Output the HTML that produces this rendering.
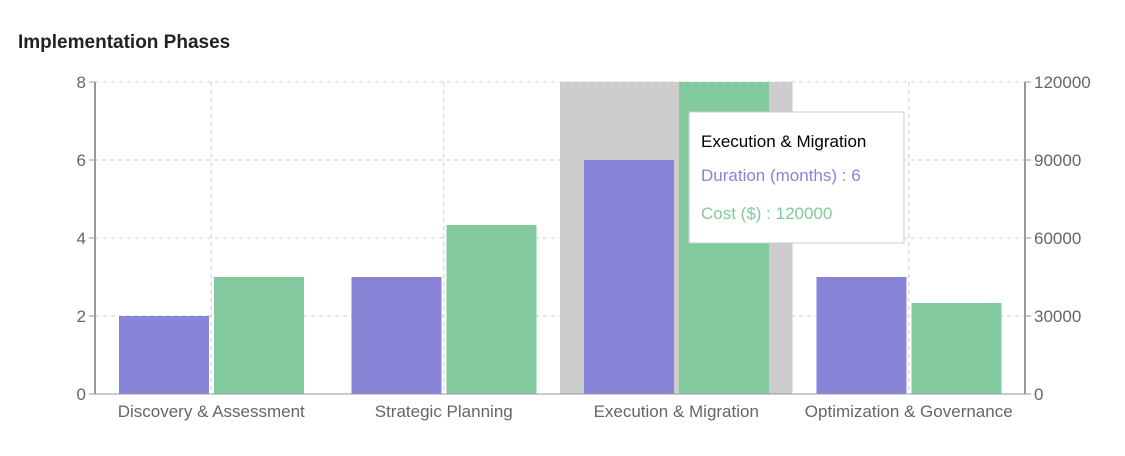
<!DOCTYPE html>
<html><head><meta charset="utf-8"><style>
body{margin:0;background:#fff;font-family:"Liberation Sans",sans-serif;}
</style></head><body>
<svg width="1125" height="451" xmlns="http://www.w3.org/2000/svg" font-family="Liberation Sans, sans-serif">
<text x="18" y="48" font-size="19" font-weight="bold" fill="#222">Implementation Phases</text>
<g id="grid"></g>
<g id="bars"></g>
<g id="axes"></g>
<g>
<rect x="689" y="112" width="215" height="131" fill="#fff" stroke="#ccc"/>
<text x="701" y="147" font-size="17" fill="#000">Execution &amp; Migration</text>
<text id="tt1" x="701" y="181" font-size="17" fill="#8884d8">Duration (months) : 6</text>
<text id="tt2" x="701" y="219" font-size="17" fill="#82ca9d">Cost ($) : 120000</text>
</g>
</svg>
<script>
const categories=["Discovery & Assessment","Strategic Planning","Execution & Migration","Optimization & Governance"];
const duration=[2,3,6,3];
const cost=[45000,65000,120000,35000];
const leftTicks=[0,2,4,6,8];
const rightTicks=[0,30000,60000,90000,120000];
const highlight=2;
const NS="http://www.w3.org/2000/svg";
const X0=95,X1=1025,Y0=394,Y1=82;
const band=(X1-X0)/categories.length;
const yL=v=>Y0-(v/8)*(Y0-Y1);
const yR=v=>Y0-(v/120000)*(Y0-Y1);
function mk(t,a,p){const e=document.createElementNS(NS,t);for(const k in a)e.setAttribute(k,a[k]);p.appendChild(e);return e;}
const grid=document.getElementById('grid'),bars=document.getElementById('bars'),axes=document.getElementById('axes');
leftTicks.forEach(v=>{if(v>0){const l=mk('line',{x1:X0,x2:X1,y1:yL(v),y2:yL(v),stroke:'#ccc','stroke-dasharray':'4 4'},grid);

}});
categories.forEach((c,i)=>{const cx=X0+band*(i+0.5);const l=mk('line',{x1:cx,x2:cx,y1:Y1,y2:Y0,stroke:'#ccc','stroke-dasharray':'4 4'},grid);

});
const hx=X0+band*highlight;
const hl=mk('rect',{x:hx,y:Y1,width:band,height:Y0-Y1,fill:'#ccc'},bars);


categories.forEach((c,i)=>{const bx=X0+band*i;
const b1=mk('rect',{x:bx+24,y:yL(duration[i]),width:90,height:Y0-yL(duration[i]),fill:'#8884d8'},bars);


const b2=mk('rect',{x:bx+119,y:yR(cost[i]),width:90,height:Y0-yR(cost[i]),fill:'#82ca9d'},bars);


const t=mk('text',{x:bx+band/2,y:417,'text-anchor':'middle','font-size':'17',fill:'#666'},axes);t.textContent=c;


});
mk('line',{x1:X0,x2:X1,y1:Y0,y2:Y0,stroke:'#999'},axes);
mk('line',{x1:X0,x2:X0,y1:Y1,y2:Y0,stroke:'#999','stroke-width':2},axes);
mk('line',{x1:X1,x2:X1,y1:Y1,y2:Y0,stroke:'#999','stroke-width':2},axes);
leftTicks.forEach(v=>{mk('line',{x1:X0-6,x2:X0,y1:yL(v),y2:yL(v),stroke:'#999'},axes);
const t=mk('text',{x:X0-9,y:yL(v)+6,'text-anchor':'end','font-size':'17',fill:'#666'},axes);t.textContent=v;

});
rightTicks.forEach(v=>{mk('line',{x1:X1,x2:X1+6,y1:yR(v),y2:yR(v),stroke:'#999'},axes);
const t=mk('text',{x:X1+9,y:yR(v)+6,'font-size':'17',fill:'#666'},axes);t.textContent=v;

});
document.getElementById('tt1').textContent='Duration (months) : '+duration[highlight];
document.getElementById('tt2').textContent='Cost ($) : '+cost[highlight];
</script>
</body></html>
